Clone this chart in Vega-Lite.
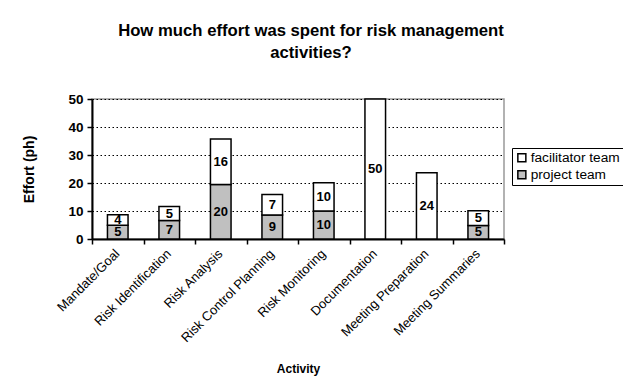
{
  "$schema": "https://vega.github.io/schema/vega-lite/v6.json",
  "width": 412,
  "height": 140,
  "autosize": {"type": "none"},
  "padding": {"left": 92, "top": 99, "right": 119, "bottom": 151},
  "background": "white",
  "title": {
    "text": ["How much effort was spent for risk management", "activities?"],
    "font": "Liberation Sans",
    "fontSize": 16.7,
    "fontWeight": "bold",
    "color": "black",
    "anchor": "middle",
    "dx": 13,
    "offset": 30,
    "lineHeight": 22
  },
  "data": {
    "values": [
      {"activity": "Mandate/Goal", "team": "project team", "effort": 4.9},
      {"activity": "Mandate/Goal", "team": "facilitator team", "effort": 3.8},
      {"activity": "Risk Identification", "team": "project team", "effort": 6.6},
      {"activity": "Risk Identification", "team": "facilitator team", "effort": 5.0},
      {"activity": "Risk Analysis", "team": "project team", "effort": 19.5},
      {"activity": "Risk Analysis", "team": "facilitator team", "effort": 16.2},
      {"activity": "Risk Control Planning", "team": "project team", "effort": 8.6},
      {"activity": "Risk Control Planning", "team": "facilitator team", "effort": 7.3},
      {"activity": "Risk Monitoring", "team": "project team", "effort": 10.0},
      {"activity": "Risk Monitoring", "team": "facilitator team", "effort": 10.1},
      {"activity": "Documentation", "team": "facilitator team", "effort": 50},
      {"activity": "Meeting Preparation", "team": "facilitator team", "effort": 23.7},
      {"activity": "Meeting Summaries", "team": "project team", "effort": 4.8},
      {"activity": "Meeting Summaries", "team": "facilitator team", "effort": 5.3}
    ]
  },
  "transform": [
    {"stack": "effort", "groupby": ["activity"], "sort": [{"field": "team", "order": "descending"}], "as": ["e0", "e1"]},
    {"calculate": "(datum.e0 + datum.e1) / 2", "as": "emid"}
  ],
  "encoding": {
    "x": {
      "field": "activity",
      "type": "nominal",
      "sort": null,
      "scale": {"paddingInner": 0, "paddingOuter": 0},
      "axis": {
        "title": "Activity",
        "titleFont": "Liberation Sans",
        "titleFontSize": 12,
        "titleFontWeight": "bold",
        "titleColor": "black",
        "titlePadding": 19,
        "labelAngle": -45,
        "labelFont": "Liberation Sans",
        "labelFontSize": 13,
        "labelColor": "black",
        "labelPadding": 3,
        "labelOffset": -5,
        "tickBand": "extent",
        "tickSize": 5,
        "tickColor": "black",
        "tickWidth": 1.5,
        "domainColor": "black",
        "domainWidth": 2
      }
    }
  },
  "layer": [
    {
      "mark": {"type": "bar", "width": {"band": 0.4}, "stroke": "black", "strokeWidth": 1.5},
      "encoding": {
        "y": {
          "field": "e0",
          "type": "quantitative",
          "scale": {"domain": [0, 50]},
          "axis": {
            "title": "Effort (ph)",
            "titleFont": "Liberation Sans",
            "titleFontSize": 14,
            "titleFontWeight": "bold",
            "titleColor": "black",
            "titlePadding": 31,
            "values": [0, 10, 20, 30, 40, 50],
            "labelOverlap": false,
            "labelFont": "Liberation Sans",
            "labelFontSize": 13.5,
            "labelFontWeight": "bold",
            "labelColor": "black",
            "labelPadding": 4,
            "tickSize": 5,
            "tickColor": "black",
            "tickWidth": 1.5,
            "domainColor": "black",
            "domainWidth": 2,
            "grid": true,
            "gridColor": "black",
            "gridDash": [1.5, 2.5],
            "gridWidth": 1.2
          }
        },
        "y2": {"field": "e1"},
        "fill": {
          "field": "team",
          "type": "nominal",
          "scale": {"domain": ["facilitator team", "project team"], "range": ["white", "#c0c0c0"]},
          "legend": {
            "title": null,
            "orient": "none",
            "legendX": 420,
            "legendY": 49,
            "symbolType": "square",
            "symbolSize": 64,
            "symbolStrokeColor": "black",
            "symbolStrokeWidth": 1.5,
            "labelFont": "Liberation Sans",
            "labelFontSize": 13.7,
            "labelColor": "black",
            "labelOffset": 2,
            "rowPadding": 2,
            "padding": 3,
            "strokeColor": "black",
            "fillColor": "white"
          }
        }
      }
    },
    {
      "mark": {"type": "text", "font": "Liberation Sans", "fontSize": 13, "fontWeight": "bold", "color": "black", "baseline": "middle"},
      "encoding": {
        "y": {"field": "emid", "type": "quantitative", "axis": null},
        "text": {"field": "effort", "type": "quantitative", "format": ".0f"}
      }
    }
  ],
  "resolve": {"axis": {"y": "independent"}},
  "config": {
    "view": {"stroke": "#999999", "strokeWidth": 1.5}
  }
}
